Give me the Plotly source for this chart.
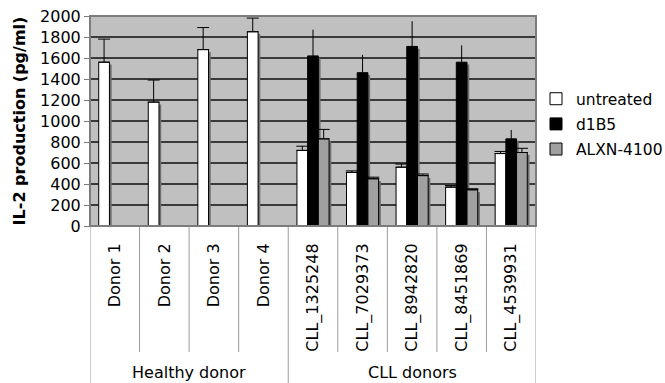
import plotly.graph_objects as go

categories = ["Donor 1", "Donor 2", "Donor 3", "Donor 4",
              "CLL_1325248", "CLL_7029373", "CLL_8942820", "CLL_8451869", "CLL_4539931"]
groups = ["Healthy donor"] * 4 + ["CLL donors"] * 5

untreated = [1560, 1180, 1680, 1850, 720, 510, 560, 370, 690]
untreated_err = [220, 210, 210, 130, 40, 15, 30, 15, 20]
d1b5 = [None, None, None, None, 1620, 1460, 1710, 1560, 830]
d1b5_err = [None, None, None, None, 250, 170, 240, 160, 85]
alxn = [None, None, None, None, 830, 450, 480, 345, 700]
alxn_err = [None, None, None, None, 90, 15, 15, 10, 40]

yticks = [0, 200, 400, 600, 800, 1000, 1200, 1400, 1600, 1800, 2000]

FONT = "DejaVu Sans"
BAR_W = 0.216
SHADOW_DX = 0.045
SHADOW_DY = 22

series = [
    ("untreated", untreated, untreated_err, "#ffffff", 6),
    ("d1B5", d1b5, d1b5_err, "#000000", 0),
    ("ALXN-4100", alxn, alxn_err, "#a0a0a0", 6),
]
offsets = [-1.5 * BAR_W + k * BAR_W for k in range(len(series))]

fig = go.Figure()
# shadows
for (name, vals, errs, color, capw), off in zip(series, offsets):
    fig.add_trace(go.Bar(
        x=categories,
        y=[None if v is None else v - SHADOW_DY for v in vals],
        width=BAR_W, offset=off + SHADOW_DX, showlegend=False, hoverinfo="skip",
        marker=dict(color="#6e6e6e", line=dict(width=0)),
    ))
for (name, vals, errs, color, capw), off in zip(series, offsets):
    fig.add_trace(go.Bar(
        x=categories, y=vals, name=name, width=BAR_W, offset=off,
        legendgroup=name,
        marker=dict(color=color, line=dict(color="#000000", width=1)),
        error_y=dict(type="data", array=errs, symmetric=False,
                     arrayminus=[0] * len(errs), color="#000000",
                     thickness=1, width=capw),
    ))

# divider lines below the axis
n = len(categories)
shapes = []
for i in range(n + 1):
    boundary = i - 0.5
    is_group_edge = i == 0 or i == n or groups[i] != groups[i - 1]
    shapes.append(dict(type="line", xref="x", yref="paper",
                       x0=boundary, x1=boundary, y0=0,
                       y1=-1.2 if is_group_edge else -0.6,
                       line=dict(color="#9a9a9a", width=1)))
# plot-area frame (grey, covers the top gridline)
shapes.append(dict(type="rect", xref="paper", yref="paper", x0=0, x1=1, y0=0, y1=1,
                   line=dict(color="#7c7c7c", width=2), layer="above"))

annotations = []
group_names = []
for g in groups:
    if g not in group_names:
        group_names.append(g)
for g in group_names:
    idx = [i for i, gg in enumerate(groups) if gg == g]
    annotations.append(dict(x=sum(idx) / len(idx), y=0, xref="x", yref="paper",
                            yshift=-146, yanchor="middle", text=g, showarrow=False,
                            font=dict(family=FONT, size=16, color="#000000")))

fig.update_layout(
    width=665, height=383,
    margin=dict(l=90, r=129, t=16, b=157, autoexpand=False),
    paper_bgcolor="#ffffff", plot_bgcolor="#c0c0c0",
    barmode="overlay",
    font=dict(family=FONT, size=16, color="#000000"),
    showlegend=True,
    legend=dict(x=1.0, y=0.685, xanchor="left", yanchor="top",
                font=dict(family=FONT, size=15.5), bgcolor="rgba(0,0,0,0)",
                tracegroupgap=2, itemwidth=30),
    shapes=shapes, annotations=annotations,
)
fig.update_xaxes(type="category", tickangle=-90, ticks="", showgrid=False,
                 showline=True, linecolor="#9a9a9a", linewidth=1,
                 ticklabelstandoff=10, automargin=False, range=[-0.5, n - 0.5],
                 tickfont=dict(family=FONT, size=16))
fig.update_yaxes(range=[0, 2000], tickvals=yticks, ticks="outside", ticklen=5,
                 tickcolor="#7a7a7a", showline=True, linecolor="#7a7a7a",
                 showgrid=True, gridcolor="#3a3a3a", gridwidth=1.6,
                 zeroline=False, automargin=False,
                 title=dict(text="<b>IL-2 production (pg/ml)</b>", standoff=10,
                            font=dict(family=FONT, size=16)),
                 tickfont=dict(family=FONT, size=16))

fig.write_html("out.html", config={"displayModeBar": False},
               post_script="document.body.style.margin='0';")
